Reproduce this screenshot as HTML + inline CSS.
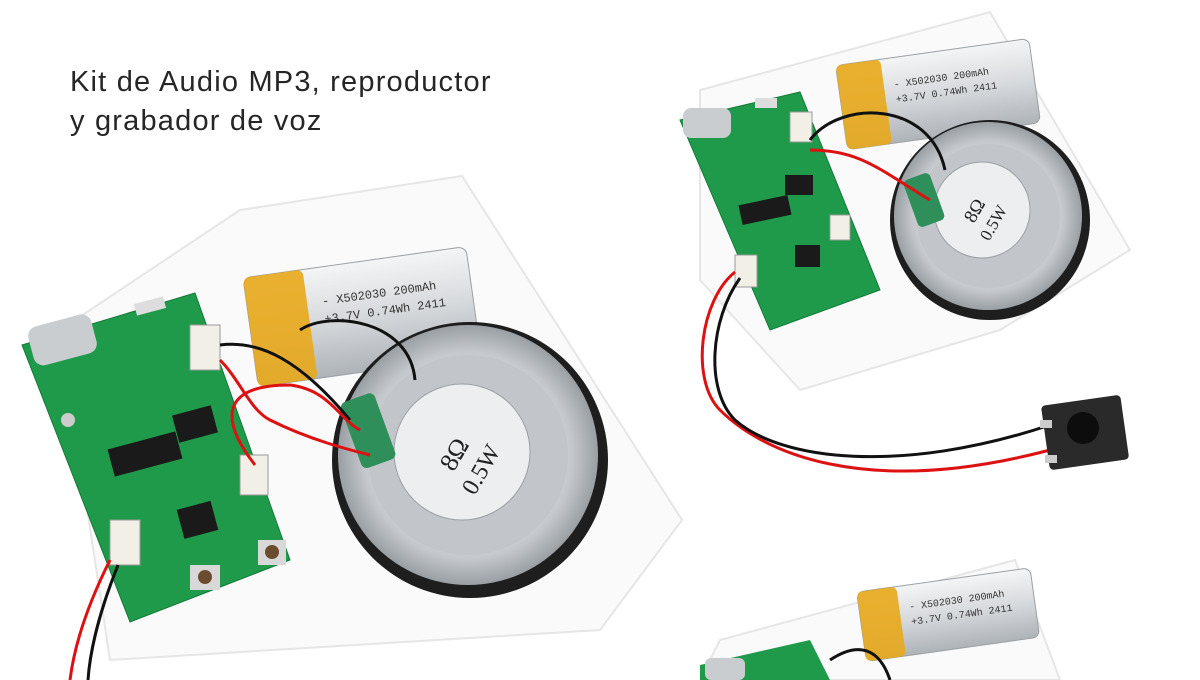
<!DOCTYPE html>
<html><head><meta charset="utf-8"><style>
html,body{margin:0;padding:0;background:#fff;width:1200px;height:680px;overflow:hidden}
.t{position:absolute;left:70px;top:63px;font-family:"Liberation Sans",sans-serif;font-size:29px;line-height:39px;color:#262626;letter-spacing:1.2px}
</style></head><body>
<svg width="1200" height="680" viewBox="0 0 1200 680" style="position:absolute;left:0;top:0">
<defs>
<radialGradient id="sp" cx="50%" cy="50%" r="50%"><stop offset="0.45" stop-color="#eceef0"/><stop offset="0.8" stop-color="#c4c8cc"/><stop offset="1" stop-color="#9a9fa4"/></radialGradient>
<linearGradient id="bat" x1="0" y1="0" x2="0" y2="1"><stop offset="0" stop-color="#f4f5f6"/><stop offset="0.5" stop-color="#d6d9dc"/><stop offset="1" stop-color="#aeb3b8"/></linearGradient>
</defs>
<polygon points="240,210 462,176 682,520 600,630 110,660 60,330" fill="#fafafa" stroke="#e6e6e6" stroke-width="2"/>
<g transform="rotate(-8 360 320)">
<rect x="250" y="262" width="225" height="110" rx="8" fill="url(#bat)" stroke="#9aa0a5"/>
<rect x="250" y="262" width="60" height="110" rx="6" fill="#e8a91b" opacity="0.9"/>
<text x="325" y="300" font-family="Liberation Mono,monospace" font-size="12" fill="#333">- X502030  200mAh</text>
<text x="325" y="318" font-family="Liberation Mono,monospace" font-size="12" fill="#333">+3.7V 0.74Wh 2411</text>
</g>
<circle cx="470" cy="460" r="138" fill="#1e1e1e"/>
<circle cx="468" cy="455" r="130" fill="url(#sp)"/>
<circle cx="468" cy="455" r="100" fill="#c2c6ca"/>
<circle cx="462" cy="452" r="68" fill="#eceef0" stroke="#9aa0a5"/>
<text x="440" y="455" font-family="Liberation Serif,serif" font-size="26" fill="#222" transform="rotate(-60 462 452)">8Ω</text>
<text x="430" y="485" font-family="Liberation Serif,serif" font-size="24" fill="#222" transform="rotate(-60 462 452)">0.5W</text>
<rect x="350" y="395" width="36" height="70" rx="6" fill="#2f8f5a" transform="rotate(-20 370 430)"/>
<polygon points="22,345 195,293 290,560 130,622" fill="#1f9a4a" stroke="#157a39"/>
<rect x="30" y="320" width="65" height="40" rx="10" fill="#c9cdd0" transform="rotate(-15 62 340)"/>
<rect x="110" y="440" width="70" height="28" fill="#1a1a1a" transform="rotate(-15 145 454)"/>
<rect x="175" y="410" width="40" height="28" fill="#1a1a1a" transform="rotate(-15 195 424)"/>
<rect x="180" y="505" width="35" height="30" fill="#1a1a1a" transform="rotate(-15 197 520)"/>
<rect x="135" y="300" width="30" height="12" fill="#ddd" transform="rotate(-15 150 306)"/>
<rect x="190" y="325" width="30" height="45" fill="#f2efe6" stroke="#999"/>
<rect x="240" y="455" width="28" height="40" fill="#f2efe6" stroke="#999"/>
<rect x="110" y="520" width="30" height="45" fill="#f2efe6" stroke="#999"/>
<circle cx="68" cy="420" r="7" fill="#ccc"/>
<rect x="190" y="565" width="30" height="25" fill="#d8d8d8"/><circle cx="205" cy="577" r="7" fill="#6b4c2e"/>
<rect x="258" y="540" width="28" height="25" fill="#d8d8d8"/><circle cx="272" cy="552" r="7" fill="#6b4c2e"/>
<path d="M220,345 C260,340 300,360 350,420" stroke="#111" stroke-width="3" fill="none"/>
<path d="M220,360 C240,380 250,410 270,420 C310,440 350,450 370,455" stroke="#d11" stroke-width="3" fill="none"/>
<path d="M255,465 C220,420 220,385 290,385 C330,390 340,420 360,430" stroke="#d11" stroke-width="3" fill="none"/>
<path d="M300,330 C330,310 410,320 415,380" stroke="#111" stroke-width="3" fill="none"/>
<path d="M110,560 C90,600 75,640 70,680" stroke="#d11" stroke-width="3" fill="none"/>
<path d="M118,565 C100,610 90,650 88,680" stroke="#111" stroke-width="3" fill="none"/>

<polygon points="700,90 990,12 1130,250 1000,330 800,390 700,280" fill="#fafafa" stroke="#e6e6e6" stroke-width="2"/>
<g transform="rotate(-8 935 90)">
<rect x="840" y="52" width="195" height="85" rx="7" fill="url(#bat)" stroke="#9aa0a5"/>
<rect x="840" y="52" width="45" height="85" rx="5" fill="#e8a91b" opacity="0.9"/>
<text x="895" y="82" font-family="Liberation Mono,monospace" font-size="10" fill="#333">- X502030  200mAh</text>
<text x="895" y="97" font-family="Liberation Mono,monospace" font-size="10" fill="#333">+3.7V 0.74Wh 2411</text>
</g>
<circle cx="990" cy="220" r="100" fill="#1e1e1e"/>
<circle cx="988" cy="216" r="94" fill="url(#sp)"/>
<circle cx="988" cy="216" r="72" fill="#c2c6ca"/>
<circle cx="982" cy="210" r="48" fill="#eceef0" stroke="#9aa0a5"/>
<text x="966" y="210" font-family="Liberation Serif,serif" font-size="19" fill="#222" transform="rotate(-60 982 210)">8Ω</text>
<text x="958" y="232" font-family="Liberation Serif,serif" font-size="17" fill="#222" transform="rotate(-60 982 210)">0.5W</text>
<rect x="910" y="175" width="28" height="50" rx="5" fill="#2f8f5a" transform="rotate(-20 924 200)"/>
<polygon points="680,120 800,92 880,290 770,330" fill="#1f9a4a" stroke="#157a39"/>
<rect x="683" y="108" width="48" height="30" rx="8" fill="#c9cdd0"/>
<rect x="755" y="98" width="22" height="10" fill="#ddd"/>
<rect x="740" y="200" width="50" height="20" fill="#1a1a1a" transform="rotate(-12 765 210)"/>
<rect x="785" y="175" width="28" height="20" fill="#1a1a1a"/>
<rect x="795" y="245" width="25" height="22" fill="#1a1a1a"/>
<rect x="735" y="255" width="22" height="32" fill="#f2efe6" stroke="#999"/>
<rect x="790" y="112" width="22" height="30" fill="#f2efe6" stroke="#999"/>
<rect x="830" y="215" width="20" height="25" fill="#f2efe6" stroke="#999"/>
<path d="M810,150 C860,150 880,170 930,200" stroke="#d11" stroke-width="3" fill="none"/>
<path d="M810,140 C840,100 930,100 945,170" stroke="#111" stroke-width="3" fill="none"/>
<path d="M735,272 C700,300 690,380 720,410 C760,450 860,500 1050,450" stroke="#d11" stroke-width="3" fill="none"/>
<path d="M740,278 C710,320 705,390 735,420 C780,460 900,475 1050,425" stroke="#111" stroke-width="3" fill="none"/>
<rect x="1045" y="400" width="80" height="65" rx="4" fill="#2a2a2a" transform="rotate(-8 1085 432)"/>
<circle cx="1083" cy="428" r="16" fill="#0d0d0d"/>
<rect x="1040" y="420" width="12" height="8" fill="#ccc"/><rect x="1045" y="455" width="12" height="8" fill="#ccc"/>

<polygon points="720,640 1015,560 1060,680 700,680" fill="#fafafa" stroke="#e6e6e6" stroke-width="2"/>
<g transform="rotate(-8 945 610)">
<rect x="860" y="580" width="175" height="70" rx="7" fill="url(#bat)" stroke="#9aa0a5"/>
<rect x="860" y="580" width="40" height="70" rx="5" fill="#e8a91b" opacity="0.9"/>
<text x="910" y="605" font-family="Liberation Mono,monospace" font-size="10" fill="#333">- X502030  200mAh</text>
<text x="910" y="620" font-family="Liberation Mono,monospace" font-size="10" fill="#333">+3.7V 0.74Wh 2411</text>
</g>
<polygon points="700,665 810,640 830,680 700,680" fill="#1f9a4a"/>
<rect x="705" y="658" width="40" height="22" rx="6" fill="#c9cdd0"/>
<path d="M830,660 C860,640 880,650 890,680" stroke="#111" stroke-width="3" fill="none"/>
</svg>
<div class="t">Kit de Audio MP3, reproductor<br>y grabador de voz</div>
</body></html>
